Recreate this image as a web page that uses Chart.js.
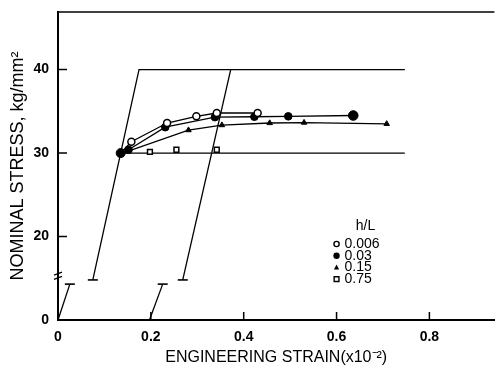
<!DOCTYPE html>
<html>
<head>
<meta charset="utf-8">
<script src="https://cdn.jsdelivr.net/npm/chart.js@4"></script>
<style>
html, body { margin: 0; padding: 0; background: #fff; }
#wrap { width: 501px; height: 370px; }
</style>
</head>
<body>
<div id="wrap"><canvas id="chart"></canvas></div>
<script>
// y axis is broken: axis value 10 is the "0" below the break
const xTicks = [0, 0.2, 0.4, 0.6, 0.8];
const yTicks = [10, 20, 30, 40];
const yTickLabels = ['0', '20', '30', '40'];

const legendTitle = 'h/L';
const legendLabels = ['0.006', '0.03', '0.15', '0.75'];

const strain006 = [0.135, 0.158, 0.235, 0.298, 0.342, 0.43];
const stress006 = [30, 31.35, 33.6, 34.4, 34.8, 34.8];
const strain003 = [0.135, 0.152, 0.231, 0.338, 0.423, 0.496, 0.636];
const stress003 = [30, 30.4, 33.1, 34.3, 34.35, 34.4, 34.5];
const strain015 = [0.135, 0.15, 0.281, 0.353, 0.456, 0.53, 0.708];
const stress015 = [30, 30.2, 32.75, 33.35, 33.6, 33.65, 33.5];
const strain075 = [0.198, 0.255, 0.342];
const stress075 = [30.15, 30.4, 30.4];

// elastic / perfectly plastic reference lines
const elasticAStrain = [0.075, 0.1745, 0.747];
const elasticAStress = [14.8, 40, 40];
const elasticBStrain = [0.2687, 0.372];
const elasticBStress = [14.8, 40];
const yieldStrain = [0.135, 0.747];
const yieldStress = [30, 30];
const lowerAStrain = [0, 0.0255];
const lowerAStress = [10, 14.3];
const lowerBStrain = [0.197, 0.2255];
const lowerBStress = [10, 14.3];

const fontFamily = '"Liberation Sans", Arial, sans-serif';

function pts(xs, ys) {
    return xs.map((x, i) => ({x: x, y: ys[i]}));
}

function refLine(xs, ys, barAt) {
    return {
        data: pts(xs, ys),
        showLine: true,
        borderColor: '#000',
        borderWidth: 1.3,
        pointStyle: 'line',
        pointRadius: xs.map((x, i) => i === barAt ? 5 : 0),
        pointBorderWidth: 1.6,
        pointBorderColor: '#000',
        clip: false,
    };
}

const decorations = {
    id: 'decorations',
    afterDraw(chart) {
        const ctx = chart.ctx;
        const area = chart.chartArea;
        const x = chart.scales.x;
        const y = chart.scales.y;
        ctx.save();
        ctx.strokeStyle = '#000';
        ctx.fillStyle = '#000';

        ctx.lineWidth = 1.6;
        ctx.beginPath();
        ctx.moveTo(area.left, area.top);
        ctx.lineTo(area.right, area.top);
        ctx.stroke();

        // inward ticks
        ctx.lineWidth = 1.5;
        ctx.beginPath();
        xTicks.slice(1).forEach(v => {
            const px = x.getPixelForValue(v);
            ctx.moveTo(px, area.bottom);
            ctx.lineTo(px, area.bottom - 8);
        });
        yTicks.slice(1).forEach(v => {
            const py = y.getPixelForValue(v);
            ctx.moveTo(area.left, py);
            ctx.lineTo(area.left + 9, py);
        });
        ctx.stroke();

        // axis break
        ctx.lineWidth = 1.3;
        ctx.beginPath();
        [15.55, 15.05].forEach(v => {
            const py = y.getPixelForValue(v);
            ctx.moveTo(area.left - 4, py + 1.5);
            ctx.lineTo(area.left + 4, py - 1.5);
        });
        ctx.stroke();

        // legend
        const lx = x.getPixelForValue(0.6);
        ctx.font = '14px ' + fontFamily;
        ctx.textBaseline = 'middle';
        ctx.textAlign = 'center';
        ctx.fillText(legendTitle, lx + 29, 226);
        ctx.textAlign = 'left';
        legendLabels.forEach((label, i) => {
            const ly = 244 + i * 11.7;
            ctx.fillText(label, lx + 8, ly);
            ctx.lineWidth = 1.4;
            ctx.beginPath();
            if (i === 0) {
                ctx.arc(lx, ly, 2.6, 0, Math.PI * 2);
                ctx.stroke();
            } else if (i === 1) {
                ctx.arc(lx, ly, 3.2, 0, Math.PI * 2);
                ctx.fill();
            } else if (i === 2) {
                ctx.moveTo(lx, ly - 3);
                ctx.lineTo(lx + 2.6, ly + 2);
                ctx.lineTo(lx - 2.6, ly + 2);
                ctx.closePath();
                ctx.fill();
            } else {
                ctx.rect(lx - 2.4, ly - 2.4, 4.8, 4.8);
                ctx.stroke();
            }
        });
        ctx.restore();
    }
};

new Chart(document.getElementById('chart'), {
    type: 'scatter',
    data: {
        datasets: [
            {
                data: pts(strain006, stress006),
                showLine: true,
                borderColor: '#000',
                borderWidth: 1.3,
                pointStyle: 'circle',
                pointRadius: strain006.map((v, i) => i === 0 ? 0 : 3.5),
                pointBackgroundColor: '#fff',
                pointBorderColor: '#000',
                pointBorderWidth: 1.5,
            },
            {
                data: pts(strain003, stress003),
                showLine: true,
                borderColor: '#000',
                borderWidth: 1.3,
                pointStyle: 'circle',
                pointRadius: strain003.map((v, i) => i === 0 ? 4.5 : (i === strain003.length - 1 ? 4.8 : 3.8)),
                pointBackgroundColor: '#000',
                pointBorderColor: '#000',
                pointBorderWidth: 1,
            },
            {
                data: pts(strain015, stress015),
                showLine: true,
                borderColor: '#000',
                borderWidth: 1.3,
                pointStyle: 'triangle',
                pointRadius: strain015.map((v, i) => i === 0 ? 0 : 3.2),
                pointBackgroundColor: '#000',
                pointBorderColor: '#000',
                pointBorderWidth: 1,
            },
            {
                data: pts(strain075, stress075),
                showLine: false,
                pointStyle: 'rect',
                pointRadius: 3.4,
                pointBackgroundColor: '#fff',
                pointBorderColor: '#000',
                pointBorderWidth: 1.5,
            },
            refLine(yieldStrain, yieldStress, -1),
            refLine(elasticAStrain, elasticAStress, 0),
            refLine(elasticBStrain, elasticBStress, 0),
            refLine(lowerAStrain, lowerAStress, 1),
            refLine(lowerBStrain, lowerBStress, 1),
        ],
    },
    options: {
        responsive: true,
        maintainAspectRatio: false,
        animation: false,
        layout: {
            padding: {top: 12, right: 1, left: 0, bottom: 0},
        },
        plugins: {
            legend: {display: false},
            tooltip: {enabled: false},
        },
        scales: {
            x: {
                type: 'linear',
                min: 0,
                max: 0.94,
                afterFit: scale => {
                    scale.height = 50;
                    scale.paddingLeft = 0;
                    scale.paddingRight = 0;
                },
                afterBuildTicks: scale => { scale.ticks = xTicks.map(v => ({value: v})); },
                grid: {display: false, drawTicks: false},
                border: {display: true, color: '#000', width: 2},
                ticks: {
                    color: '#000',
                    padding: 9,
                    maxRotation: 0,
                    font: {family: fontFamily, size: 14, weight: 'bold'},
                    callback: v => v === 0 ? '0' : v.toFixed(1),
                },
                title: {
                    display: true,
                    text: 'ENGINEERING STRAIN(x10⁻²)',
                    color: '#000',
                    padding: {top: 0, bottom: 3},
                    font: {family: fontFamily, size: 16},
                },
            },
            y: {
                type: 'linear',
                min: 10,
                max: 46.9,
                afterFit: scale => {
                    scale.width = 58;
                    scale.paddingTop = 0;
                    scale.paddingBottom = 0;
                },
                afterBuildTicks: scale => { scale.ticks = yTicks.map(v => ({value: v})); },
                grid: {display: false, drawTicks: false},
                border: {display: true, color: '#000', width: 2},
                ticks: {
                    color: '#000',
                    padding: 9,
                    font: {family: fontFamily, size: 14, weight: 'bold'},
                    callback: v => yTickLabels[yTicks.indexOf(v)],
                },
                title: {
                    display: true,
                    text: 'NOMINAL STRESS, kg/mm²',
                    color: '#000',
                    padding: {top: 7, bottom: 0},
                    font: {family: fontFamily, size: 18},
                },
            },
        },
    },
    plugins: [decorations],
});
</script>
</body>
</html>
